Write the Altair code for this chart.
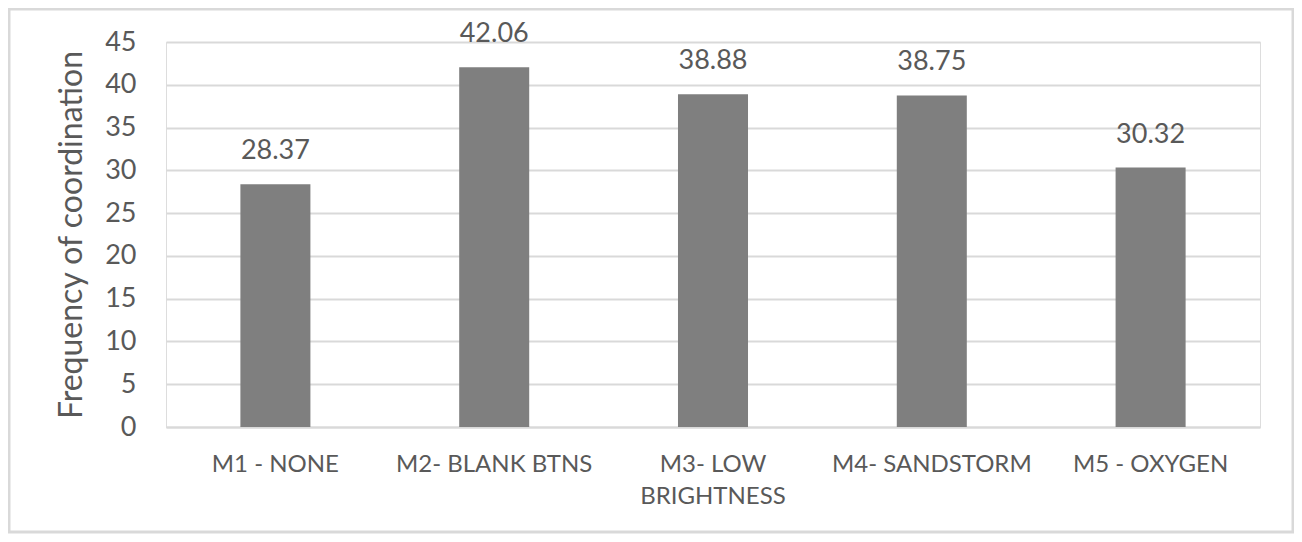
import altair as alt
import pandas as pd

categories = ["M1 - NONE", "M2- BLANK BTNS", "M3- LOW\nBRIGHTNESS", "M4- SANDSTORM", "M5 - OXYGEN"]
values = [28.37, 42.06, 38.88, 38.75, 30.32]
labels = ["28.37", "42.06", "38.88", "38.75", "30.32"]
y_ticks = [0, 5, 10, 15, 20, 25, 30, 35, 40, 45]

df = pd.DataFrame({"cat": categories, "val": values, "lbl": labels})

FONT = "Lato"
W, H = 1094, 385

x_enc = alt.X(
    "cat:N", sort=None,
    scale=alt.Scale(paddingInner=0.68, paddingOuter=0.34),
    axis=alt.Axis(
        title=None, labelAngle=0, ticks=False, domain=True, domainColor="#d9d9d9",
        domainWidth=2, labelFont=FONT, labelFontSize=24, labelColor="#595959",
        labelPadding=25, labelLineHeight=32, labelExpr="split(datum.label, '\\n')",
        labelLimit=300,
    ),
)
y_enc = alt.Y(
    "val:Q",
    scale=alt.Scale(domain=[0, 45], nice=False),
    axis=alt.Axis(
        values=y_ticks, title="Frequency of coordination", ticks=False, domain=False,
        grid=True, gridColor="#d9d9d9", gridWidth=2,
        labelFont=FONT, labelFontSize=27, labelColor="#595959", labelPadding=30,
        titleFont=FONT, titleFontSize=32, titleFontWeight="normal", titleColor="#595959",
        titleX=-95, titleY=H / 2, titleAlign="center", titleBaseline="middle", titleAngle=-90,
    ),
)

base = alt.Chart(df)
bars = base.mark_bar(color="#7f7f7f").encode(x=x_enc, y=y_enc)
text = base.mark_text(
    font=FONT, fontSize=27, color="#595959", baseline="alphabetic", dy=-25
).encode(x=alt.X("cat:N", sort=None), y="val:Q", text="lbl:N")

border = alt.Chart(pd.DataFrame({"k": [0]})).mark_rect(
    fill=None, stroke="#d9d9d9", strokeWidth=3, clip=False
).encode(
    x=alt.value(-157), x2=alt.value(W + 33), y=alt.value(-33), y2=alt.value(H + 105)
)

chart = alt.layer(border, bars, text).properties(
    width=W, height=H,
    autosize=alt.AutoSizeParams(type="none"),
    padding={"left": 158, "top": 34, "right": 34, "bottom": 107},
).configure_view(stroke=None).configure(background="white")

chart.save("out.html", embed_options={"renderer": "svg", "actions": False})
